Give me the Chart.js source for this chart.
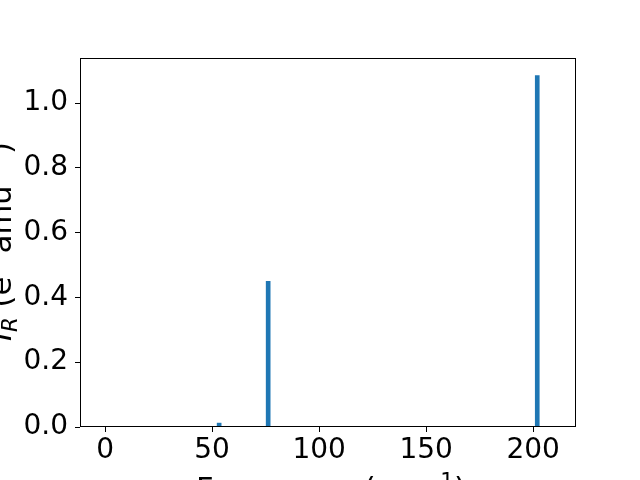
<!DOCTYPE html>
<html>
<head>
<meta charset="utf-8">
<script src="https://cdn.jsdelivr.net/npm/chart.js@4"></script>
<style>
  body { margin: 0; background: #fff; }
  canvas { display: block; }
</style>
</head>
<body>
<canvas id="myChart" width="640" height="480"></canvas>
<script>
// Spectrum lines
const frequencies = [53.3, 76.2, 201.9];
const intensities = [0.012, 0.45, 1.085];
const xTicks = [0, 50, 100, 150, 200];
const yTicks = [0.0, 0.2, 0.4, 0.6, 0.8, 1.0];

const font = { family: 'DejaVu Sans', size: 28 };
const T = 30.6;   // title size
const S = 21.4;   // sup / sub size

// titles as runs: [text, size, italic, shift]
const xTitleRuns = [['Frequency (cm', T, false, 0], ['−1', S, false, -11], [')', T, false, 0]];
const yTitleRuns = [['I', T, true, 0], ['R', S, true, 6], [' (e', T, false, 0], ['2', S, false, -11],
    [' amu', T, false, 0], ['−1', S, false, -11], [')', T, false, 0]];

function setFont(ctx, size, italic) {
    ctx.font = (italic ? 'italic ' : '') + size + 'px "DejaVu Sans"';
}

function runsWidth(ctx, runs) {
    let w = 0;
    runs.forEach(r => { setFont(ctx, r[1], r[2]); w += ctx.measureText(r[0]).width; });
    return w;
}

function drawRuns(ctx, runs, cx, y) {
    let x = cx - runsWidth(ctx, runs) / 2;
    ctx.textAlign = 'left';
    ctx.textBaseline = 'alphabetic';
    runs.forEach(r => {
        setFont(ctx, r[1], r[2]);
        ctx.fillText(r[0], x, y + r[3]);
        x += ctx.measureText(r[0]).width;
    });
}

// frame + axis titles like the original figure
const framePlugin = {
    id: 'frame',
    afterDraw(chart) {
        const ctx = chart.ctx;
        const a = chart.chartArea;
        ctx.save();
        ctx.strokeStyle = '#000';
        ctx.lineWidth = 1;
        ctx.strokeRect(a.left + 0.5, a.top + 0.5, a.right - a.left - 1, a.bottom - a.top - 1);

        ctx.fillStyle = '#000';
        drawRuns(ctx, xTitleRuns, (a.left + a.right) / 2 + 3, 499);

        ctx.translate(10.5, (a.top + a.bottom) / 2 - 1);
        ctx.rotate(-Math.PI / 2);
        drawRuns(ctx, yTitleRuns, 0, 0);
        ctx.restore();
    }
};

const chartData = {
    datasets: [{
        data: frequencies.map((f, i) => ({ x: f, y: intensities[i] })),
        backgroundColor: '#1f77b4',
        borderWidth: 0,
        barThickness: 4
    }]
};

const config = {
    type: 'bar',
    data: chartData,
    options: {
        responsive: false,
        animation: false,
        layout: { padding: { top: 58, right: 64, left: 0, bottom: 0 } },
        scales: {
            x: {
                type: 'linear',
                offset: false,
                min: -11.7,
                max: 220,
                afterBuildTicks: scale => { scale.ticks = xTicks.map(v => ({ value: v })); },
                afterFit: scale => { scale.height = 53; },
                grid: { offset: false, drawOnChartArea: false, drawTicks: true, tickLength: 5, color: '#000' },
                border: { display: false },
                ticks: { color: '#000', font, padding: 2, maxRotation: 0 }
            },
            y: {
                min: 0,
                max: 1.139,
                afterBuildTicks: scale => { scale.ticks = yTicks.map(v => ({ value: v })); },
                afterFit: scale => { scale.width = 80; },
                grid: { drawOnChartArea: false, drawTicks: true, tickLength: 5, color: '#000' },
                border: { display: false },
                ticks: { color: '#000', font, padding: 7, callback: v => v.toFixed(1) }
            }
        },
        plugins: {
            legend: { display: false },
            tooltip: { enabled: false }
        }
    },
    plugins: [framePlugin]
};

const chart = new Chart(document.getElementById('myChart'), config);
</script>
</body>
</html>
